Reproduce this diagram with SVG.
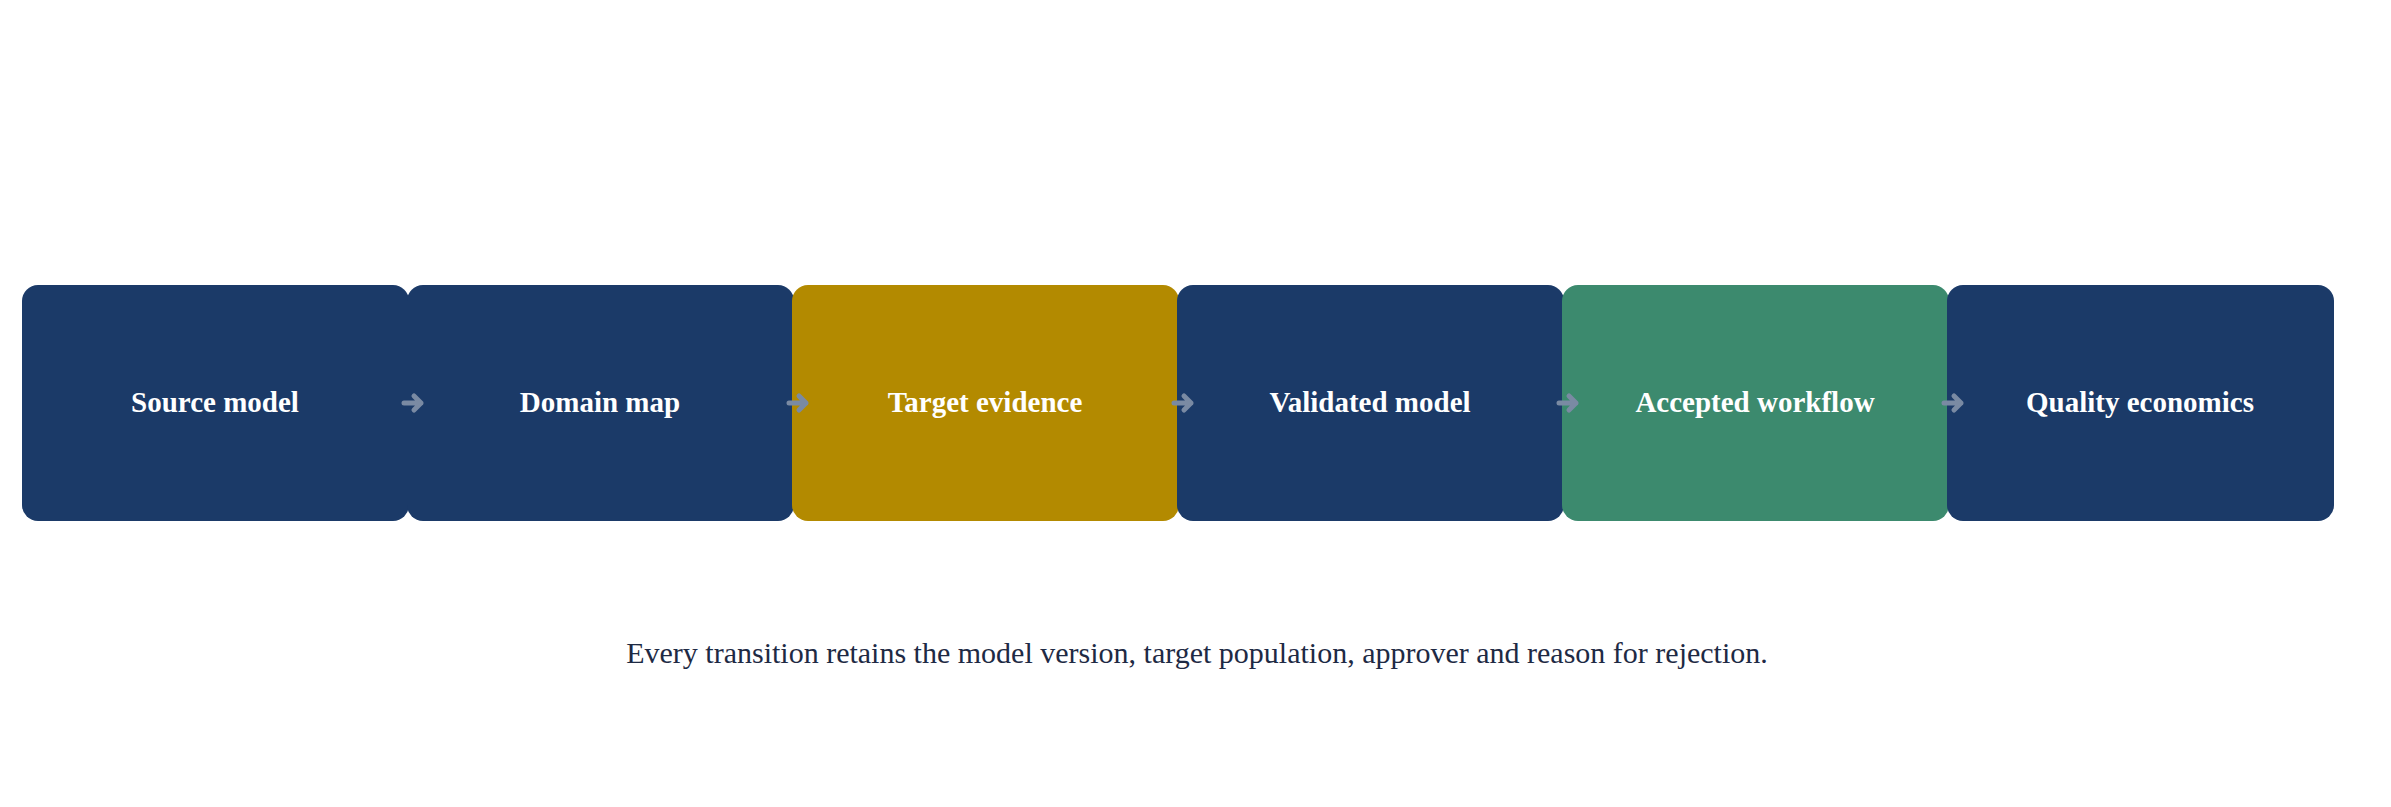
<svg xmlns="http://www.w3.org/2000/svg" width="2391" height="807" viewBox="0 0 2391 807">
<style>
.n{stroke:none}
.t{font-family:"Liberation Serif",serif;font-weight:bold;font-size:29px;fill:#fff;text-anchor:middle;dominant-baseline:central}
.c{stroke:#7a8aa3;stroke-width:5;fill:none;stroke-linecap:round;stroke-linejoin:round}
.cap{font-family:"Liberation Serif",serif;font-size:30px;fill:#1e2a44;text-anchor:middle}
</style>
<rect width="2391" height="807" fill="#fff"/>
<g id="n1"><rect class="n" x="22" y="285" width="387" height="236" rx="16" fill="#1b3a68"/><text class="t" x="215" y="402">Source model</text></g>
<g id="n2"><rect class="n" x="407" y="285" width="387" height="236" rx="16" fill="#1b3a68"/><text class="t" x="600" y="402">Domain map</text></g>
<g id="n3"><rect class="n" x="792" y="285" width="387" height="236" rx="16" fill="#b38a00"/><text class="t" x="985" y="402">Target evidence</text></g>
<g id="n4"><rect class="n" x="1177" y="285" width="387" height="236" rx="16" fill="#1b3a68"/><text class="t" x="1370" y="402">Validated model</text></g>
<g id="n5"><rect class="n" x="1562" y="285" width="387" height="236" rx="16" fill="#3c8a6e"/><text class="t" x="1755" y="402">Accepted workflow</text></g>
<g id="n6"><rect class="n" x="1947" y="285" width="387" height="236" rx="16" fill="#1b3a68"/><text class="t" x="2140" y="402">Quality economics</text></g>
<g id="connectors">
<path class="c" d="M404 403H421M414 396L421 403L414 410"/>
<path class="c" d="M789 403H806M799 396L806 403L799 410"/>
<path class="c" d="M1174 403H1191M1184 396L1191 403L1184 410"/>
<path class="c" d="M1559 403H1576M1569 396L1576 403L1569 410"/>
<path class="c" d="M1944 403H1961M1954 396L1961 403L1954 410"/>
</g>
<text class="cap" x="1197" y="663">Every transition retains the model version, target population, approver and reason for rejection.</text>
</svg>
